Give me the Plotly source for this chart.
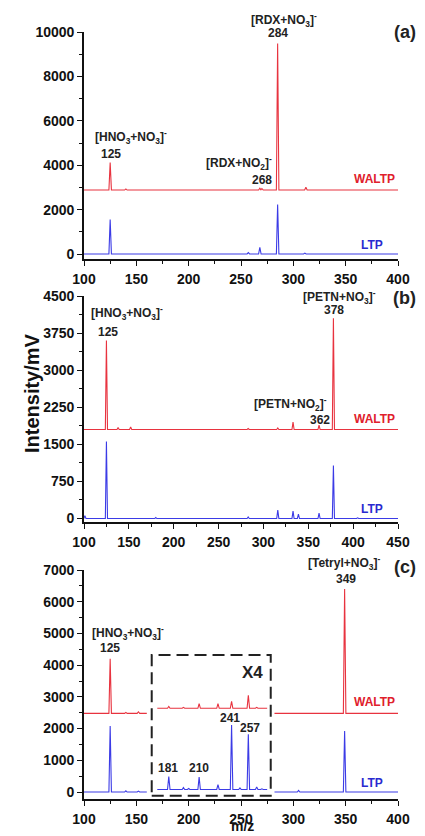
import plotly.graph_objects as go

# ---------------- data ----------------
# Panel (a) RDX
a_waltp_baseline = 2880
a_waltp_mz = [125, 140, 153, 258, 268, 270, 285, 312]
a_waltp_int = [4120, 2930, 2910, 2900, 2960, 2950, 9480, 3010]
a_ltp_baseline = 0
a_ltp_mz = [125, 257, 268, 285, 311]
a_ltp_int = [1550, 60, 300, 2230, 40]
a_range_mz = [100, 400]

# Panel (b) PETN
b_waltp_baseline = 1800
b_waltp_mz = [125, 138, 152, 283, 316, 333, 362, 378]
b_waltp_int = [3600, 1840, 1850, 1820, 1830, 1950, 1890, 4050]
b_ltp_baseline = 0
b_ltp_mz = [101, 125, 180, 283, 316, 333, 339, 362, 378, 405]
b_ltp_int = [60, 1560, 20, 30, 170, 150, 90, 110, 1070, 15]
b_range_mz = [100, 450]

# Panel (c) Tetryl (middle segment shown x4)
c_segments = [[100, 160], [170, 275], [282, 400]]
c_waltp_baselines = [2480, 2640, 2480]
c_waltp_mz = [125, 140, 152, 181, 195, 210, 228, 241, 257, 265, 305, 349]
c_waltp_int = [4200, 2510, 2530, 2700, 2670, 2790, 2790, 2860, 3050, 2670, 2500, 6400]
c_ltp_baselines = [0, 80, 0]
c_ltp_mz = [125, 140, 152, 181, 195, 200, 210, 228, 241, 249, 257, 265, 270, 305, 349]
c_ltp_int = [2080, 40, 30, 490, 140, 110, 470, 230, 2110, 130, 1820, 160, 100, 50, 1920]

# ---------------- styles ----------------
RED_LINE = "#e8333f"
BLUE_LINE = "#3b3be6"
RED_TXT = "#e0202c"
BLUE_TXT = "#2a2ad0"
FONT = "Liberation Sans, Arial, sans-serif"
OFF = 8                      # default page body margin
W, H = 425 - OFF, 836 - OFF  # figure size inside the page
PL, PR = 84, 398             # plot area, page pixels
L, R = PL - OFF, 425 - PR
PEAK_HALF_WIDTH = 1.2


def build(segments, baselines, mzs, ints):
    xs, ys = [], []
    for (lo, hi), base in zip(segments, baselines):
        xs.append(lo); ys.append(base)
        for m, v in zip(mzs, ints):
            if lo < m < hi:
                xs += [m - PEAK_HALF_WIDTH, m, m + PEAK_HALF_WIDTH]
                ys += [base, v, base]
        xs.append(hi); ys.append(base)
        xs.append(None); ys.append(None)
    return xs, ys


def px2paper(px, py):
    return (px - PL) / (PR - PL), 1 - (py - OFF) / H


def pdom(bottom, top):
    return [1 - (bottom - OFF) / H, 1 - (top - OFF) / H]


fig = go.Figure()

series = [
    ("x", "y", [a_range_mz], [a_waltp_baseline], a_waltp_mz, a_waltp_int, RED_LINE),
    ("x", "y", [a_range_mz], [a_ltp_baseline], a_ltp_mz, a_ltp_int, BLUE_LINE),
    ("x2", "y2", [b_range_mz], [b_waltp_baseline], b_waltp_mz, b_waltp_int, RED_LINE),
    ("x2", "y2", [b_range_mz], [b_ltp_baseline], b_ltp_mz, b_ltp_int, BLUE_LINE),
    ("x3", "y3", c_segments, c_waltp_baselines, c_waltp_mz, c_waltp_int, RED_LINE),
    ("x3", "y3", c_segments, c_ltp_baselines, c_ltp_mz, c_ltp_int, BLUE_LINE),
]
for xa, ya, segs, bases, mz, it, col in series:
    xs, ys = build(segs, bases, mz, it)
    fig.add_trace(go.Scatter(x=xs, y=ys, xaxis=xa, yaxis=ya, mode="lines",
                             line=dict(color=col, width=1.1), showlegend=False,
                             connectgaps=False, hoverinfo="skip"))

tickfont = dict(family=FONT, size=14, color="#111", weight="bold")


def xaxis(rng, anchor, dtick):
    return dict(domain=[0, 1], range=rng, anchor=anchor, showline=True, linecolor="#111",
                linewidth=1.6, ticks="outside", ticklen=5, tickwidth=1.4, tickcolor="#111",
                dtick=dtick, tick0=100, tickfont=tickfont, showgrid=False, zeroline=False,
                automargin=False, tickformat="d", ticklabelstandoff=1,
                minor=dict(ticks="outside", ticklen=3, tickwidth=1.2, tickcolor="#111",
                           dtick=dtick / 2, showgrid=False))


def yaxis(rng, dom, anchor, dtick):
    return dict(domain=dom, range=rng, anchor=anchor, showline=True, linecolor="#111",
                linewidth=1.6, ticks="outside", ticklen=5, tickwidth=1.4, tickcolor="#111",
                dtick=dtick, tick0=0, tickfont=tickfont, showgrid=False, zeroline=False,
                automargin=False, tickformat="d",
                minor=dict(ticks="outside", ticklen=3, tickwidth=1.2, tickcolor="#111",
                           dtick=dtick / 2, showgrid=False))


fig.update_layout(
    width=W, height=H, margin=dict(l=L, r=R, t=0, b=0, autoexpand=False),
    paper_bgcolor="white", plot_bgcolor="white",
    xaxis=xaxis([100, 400], "y", 50),
    yaxis=yaxis([-225, 10000], pdom(259, 32), "x", 2000),
    xaxis2=xaxis([100, 450], "y2", 50),
    yaxis2=yaxis([-70, 4500], pdom(522, 296), "x2", 750),
    xaxis3=xaxis([100, 400], "y3", 50),
    yaxis3=yaxis([-220, 7000], pdom(799, 570), "x3", 1000),
)

ann = []


def label(text, px, py, size=12, color="#222", xanchor="center"):
    x, y = px2paper(px, py)
    ann.append(dict(text=text, x=x, y=y, xref="paper", yref="paper", showarrow=False,
                    xanchor=xanchor, yanchor="middle",
                    font=dict(family=FONT, size=size, color=color, weight="bold")))


HNO = "[HNO<sub>3</sub>+NO<sub>3</sub>]<sup>-</sup>"
# panel a
label(HNO, 131, 137)
label("125", 111, 154)
label("[RDX+NO<sub>2</sub>]<sup>-</sup>", 239, 163)
label("268", 262, 180)
label("[RDX+NO<sub>3</sub>]<sup>-</sup>", 284, 20)
label("284", 278, 33)
label("(a)", 418, 32, 18, xanchor="right")
label("WALTP", 397, 179, 12, RED_TXT, xanchor="right")
label("LTP", 385, 245, 12, BLUE_TXT, xanchor="right")
# panel b
label(HNO, 127, 313)
label("125", 108, 332)
label("[PETN+NO<sub>3</sub>]<sup>-</sup>", 339, 297)
label("378", 334, 310)
label("(b)", 418, 298, 18, xanchor="right")
label("[PETN+NO<sub>2</sub>]<sup>-</sup>", 290, 404)
label("362", 320, 420)
label("WALTP", 397, 419, 12, RED_TXT, xanchor="right")
label("LTP", 385, 509, 12, BLUE_TXT, xanchor="right")
# panel c
label("[Tetryl+NO<sub>3</sub>]<sup>-</sup>", 344, 563)
label("349", 346, 579)
label("(c)", 418, 567, 18, xanchor="right")
label(HNO, 128, 633)
label("125", 110, 648)
label("X4", 252, 672, 17)
label("WALTP", 397, 702, 12, RED_TXT, xanchor="right")
label("241", 230, 718)
label("257", 250, 728)
label("181", 168, 768)
label("210", 199, 768)
label("LTP", 385, 783, 12, BLUE_TXT, xanchor="right")

# axis titles
x, y = px2paper(32, 393)
ann.append(dict(text="Intensity/mV", x=x, y=y, xref="paper", yref="paper", showarrow=False,
                textangle=-90, xanchor="center", yanchor="middle",
                font=dict(family=FONT, size=20, color="#111", weight="bold")))
x, y = px2paper(242, 836)
ann.append(dict(text="m/z", x=x, y=y, xref="paper", yref="paper", showarrow=False,
                xanchor="center", yanchor="bottom",
                font=dict(family=FONT, size=14, color="#111", weight="bold")))
fig.update_layout(annotations=ann)

# dashed x4 box in panel (c)
fig.add_shape(type="rect", xref="x3", yref="y3", x0=164.7, x1=278.4, y0=-117, y1=4322,
              line=dict(color="#222", width=2, dash="12px,6px"), fillcolor="rgba(0,0,0,0)")

fig.write_html("out.html")
